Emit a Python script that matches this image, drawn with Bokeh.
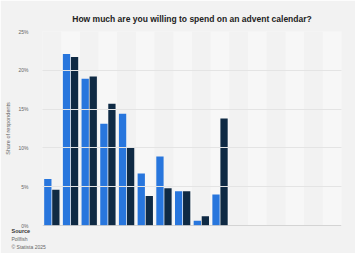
from bokeh.plotting import figure
from bokeh.models import Range1d, Span, Title, FixedTicker, ColumnDataSource
from bokeh.embed import file_html
from bokeh.resources import INLINE

# Data (share of respondents, %)
categories = ["1", "2", "3", "4", "5", "6", "7", "8", "9", "10"]
series_a = [6.0, 22.1, 18.9, 13.1, 14.4, 6.7, 8.9, 4.4, 0.6, 4.0]
series_b = [4.6, 21.7, 19.2, 15.7, 10.0, 3.8, 4.8, 4.4, 1.2, 13.8]
n_slots = 16
y_ticks = [0, 5, 10, 15, 20, 25]
y_tick_labels = {0: "0%", 5: "5%", 10: "10%", 15: "15%", 20: "20%", 25: "25%"}

BG = "#f2f2f2"
FONT = "Liberation Sans"

p = figure(width=355, height=253, output_backend="svg", toolbar_location=None,
           x_range=Range1d(0, n_slots), y_range=Range1d(0, 25),
           min_border_left=42, min_border_right=14, min_border_top=31, min_border_bottom=28,
           background_fill_color=BG, border_fill_color=BG, outline_line_color=None)

p.title.text = "How much are you willing to spend on an advent calendar?"
p.title.align = "center"
p.title.vertical_align = "top"
p.title.text_font = FONT
p.title.text_font_size = "8.5px"
p.title.text_font_style = "bold"
p.title.text_color = "#222222"
p.title.standoff = 12

# alternating category bands
band_x = [i + 0.5 for i in range(n_slots)]
band_c = [BG if i % 2 == 0 else "#f7f7f7" for i in range(n_slots)]
p.vbar(x=band_x, top=25, bottom=0, width=1.0, fill_color=band_c, line_color=None)

p.ygrid.ticker = FixedTicker(ticks=y_ticks)
p.ygrid.grid_line_color = "#e4e4e4"
p.ygrid.grid_line_width = 1
p.ygrid.level = "overlay"
p.xgrid.visible = False

xs = [i + 0.5 for i in range(len(categories))]
src = ColumnDataSource(dict(xa=[x - 0.215 for x in xs], xb=[x + 0.215 for x in xs],
                            a=series_a, b=series_b))
p.vbar(x="xa", top="a", width=0.39, source=src, fill_color="#2876dd", line_color=None)
p.vbar(x="xb", top="b", width=0.39, source=src, fill_color="#0f2a44", line_color=None)

p.add_layout(Span(location=0, dimension="width", line_color="#b4b4b4", line_width=1.2))

p.xaxis.visible = False
ya = p.yaxis[0]
ya.ticker = FixedTicker(ticks=y_ticks)
ya.major_label_overrides = y_tick_labels
ya.axis_line_color = None
ya.major_tick_line_color = None
ya.minor_tick_line_color = None
ya.major_label_text_font_size = "5px"
ya.major_label_text_color = "#666666"
ya.major_label_text_font = FONT
ya.major_label_standoff = 8
ya.axis_label = "Share of respondents"
ya.axis_label_text_font_size = "5.5px"
ya.axis_label_text_font_style = "normal"
ya.axis_label_text_color = "#666666"
ya.axis_label_text_font = FONT
ya.axis_label_standoff = 4

for txt, size, style, color in [("Source", "5.5px", "bold", "#333333"),
                                ("Pollfish", "5px", "normal", "#666666"),
                                ("© Statista 2025", "5px", "normal", "#666666")]:
    p.add_layout(Title(text=txt, align="left", offset=-31, text_font=FONT,
                       text_font_size=size, text_font_style=style, text_color=color,
                       standoff=0), "below")

open("out.html", "w").write(file_html(p, INLINE))
